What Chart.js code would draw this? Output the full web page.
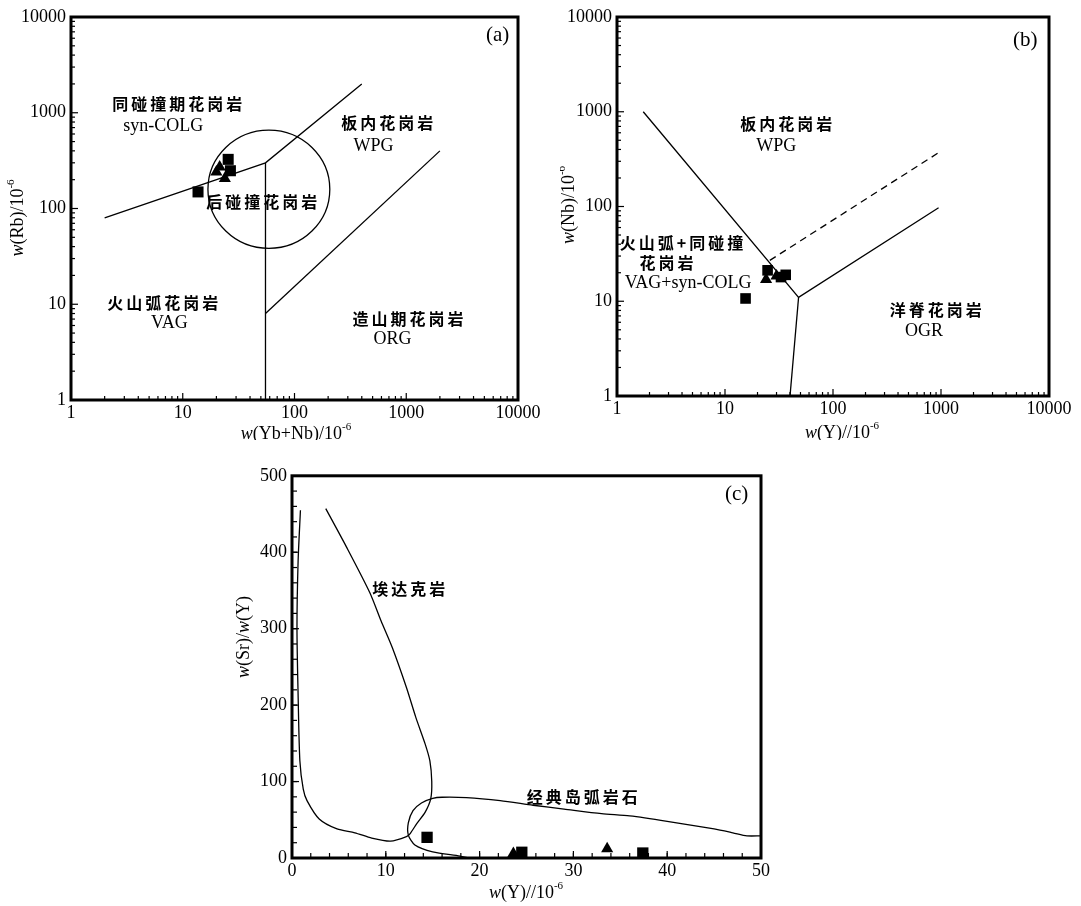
<!DOCTYPE html>
<html>
<head>
<meta charset="utf-8">
<script src="https://cdn.jsdelivr.net/npm/chart.js@4.4.0/dist/chart.umd.min.js"></script>
<style>
  html, body { margin: 0; padding: 0; background: #fff; width: 1081px; height: 906px; overflow: hidden; }
  canvas { position: absolute; }
</style>
</head>
<body>
<canvas id="chartA" width="555" height="440" style="left:0px;top:0px"></canvas>
<canvas id="chartB" width="521" height="440" style="left:560px;top:0px"></canvas>
<canvas id="chartC" width="560" height="446" style="left:230px;top:460px"></canvas>
<script>
// ---------- shared tick labels ----------
const logTicks = [1, 10, 100, 1000, 10000];
const cTicksX = [0, 10, 20, 30, 40, 50];
const cTicksY = [0, 100, 200, 300, 400, 500];

// ---------- (a) Rb vs Yb+Nb ----------
const aSquareX = [13.7, 25.5, 26.7];
const aSquareY = [149, 326, 248];
const aTriangleX = [21.4, 23.8, 20.0];
const aTriangleY = [272, 206, 240];
const aSynVagX = [2, 55, 400];
const aSynVagY = [80, 300, 2000];
const aVagWpgX = [55, 55];
const aVagWpgY = [300, 1];
const aWpgOrgX = [55, 2000];
const aWpgOrgY = [8, 400];
const aPostColgX = [16.8, 207];   // left / right extent of the post-COLG field
const aPostColgY = [38.3, 658];   // bottom / top extent

// ---------- (b) Nb vs Y ----------
const bSquareX = [15.5, 24.8, 33, 36.5];
const bSquareY = [10.7, 21.2, 18, 19];
const bTriangleX = [24, 30];
const bTriangleY = [17, 18.5];
const bWpgX = [1.75, 48, 950];
const bWpgY = [1000, 11, 97];
const bVagOrgX = [48, 40];
const bVagOrgY = [11, 1];
const bDashX = [26, 950];
const bDashY = [27, 370];

// ---------- (c) Sr/Y vs Y ----------
const cSquareX = [14.4, 24.5, 37.4];
const cSquareY = [27, 7.5, 6.5];
const cTriangleX = [23.6, 33.6];
const cTriangleY = [6, 12];
const cAdakiteX = [3.6, 5.8, 8.3, 9.5, 10.7, 12.2, 13.2, 14.2, 14.7, 14.9, 14.8, 14.2, 13.3, 12.6, 12.2, 10.5, 8.5, 6.7, 4.8, 2.9, 1.6, 1.2, 0.84, 0.65, 0.53, 0.65, 0.9];
const cAdakiteY = [457, 407, 347, 310, 275, 223, 184, 149, 127, 100, 78, 60, 45, 32, 28, 22, 26, 33, 38, 51, 75, 90, 127, 214, 301, 388, 455];
const cArcX = [50, 48.5, 47, 45, 40, 36, 33, 29, 25.7, 22.2, 18.6, 16, 15, 13.8, 12.9, 12.4, 12.4, 13.1, 15, 17.9, 18.8];
const cArcY = [29, 29, 33, 38, 48, 55, 58, 64, 69, 75, 79, 79.5, 78, 72, 62, 46, 30, 17, 8, 2.5, 0];

const pts = (xs, ys) => xs.map((x, i) => ({ x, y: ys[i] }));

const SERIF = '"Liberation Serif", "Times New Roman", serif';
const CJK = '"Noto Sans CJK SC", sans-serif';

// inward tick marks and the heavy frame round the plot area
const framePlugin = {
  id: 'frame',
  afterDatasetsDraw(chart, args, opts) {
    const { ctx, chartArea: a, scales: { x, y } } = chart;
    ctx.save();
    ctx.strokeStyle = '#000';
    ctx.lineWidth = 1.2;
    const minorVals = (scale, step) => {
      const out = [];
      if (scale.type === 'logarithmic') {
        for (let d = scale.min; d < scale.max; d *= 10)
          for (let m = 2; m <= 9; m++) out.push(m * d);
      } else {
        for (let v = scale.min; v <= scale.max + 1e-9; v += step) out.push(v);
      }
      return out;
    };
    const tickX = (v, len) => {
      const p = x.getPixelForValue(v);
      ctx.beginPath(); ctx.moveTo(p, a.bottom); ctx.lineTo(p, a.bottom - len); ctx.stroke();
    };
    const tickY = (v, len) => {
      const p = y.getPixelForValue(v);
      ctx.beginPath(); ctx.moveTo(a.left, p); ctx.lineTo(a.left + len, p); ctx.stroke();
    };
    minorVals(x, opts.xStep).forEach(v => tickX(v, opts.minorLen));
    minorVals(y, opts.yStep).forEach(v => tickY(v, opts.minorLen));
    x.ticks.forEach(t => tickX(t.value, opts.majorLen));
    y.ticks.forEach(t => tickY(t.value, opts.majorLen));
    ctx.lineWidth = 3;
    ctx.strokeRect(a.left, a.top, a.width, a.height);
    ctx.restore();
  }
};

// ellipse for the post-collision field, placed through the chart scales
const fieldPlugin = {
  id: 'field',
  afterDatasetsDraw(chart, args, opts) {
    if (!opts.box) return;
    const { ctx, scales: { x, y } } = chart;
    const l = x.getPixelForValue(opts.box.x[0]), r = x.getPixelForValue(opts.box.x[1]);
    const b = y.getPixelForValue(opts.box.y[0]), t = y.getPixelForValue(opts.box.y[1]);
    ctx.save();
    ctx.strokeStyle = '#000';
    ctx.lineWidth = 1.3;
    ctx.beginPath();
    ctx.ellipse((l + r) / 2, (t + b) / 2, (r - l) / 2, (b - t) / 2, 0, 0, Math.PI * 2);
    ctx.stroke();
    ctx.restore();
  }
};

function drawRich(ctx, parts, cx, cy, size, vertical) {
  ctx.save();
  ctx.translate(cx, cy);
  if (vertical) ctx.rotate(-Math.PI / 2);
  ctx.textBaseline = 'middle';
  ctx.textAlign = 'left';
  ctx.fillStyle = '#000';
  let total = 0;
  const fonts = parts.map(p => {
    const f = `${p.i ? 'italic ' : ''}${p.sup ? Math.round(size * 0.62) : size}px ${SERIF}`;
    ctx.font = f;
    const w = ctx.measureText(p.t).width;
    total += w;
    return { f, w };
  });
  let px = -total / 2;
  parts.forEach((p, k) => {
    ctx.font = fonts[k].f;
    ctx.fillText(p.t, px, p.sup ? -size * 0.38 : 0);
    px += fonts[k].w;
  });
  ctx.restore();
}

// region names (placed in data coordinates) and axis titles
const textPlugin = {
  id: 'texts',
  afterDraw(chart, args, opts) {
    const { ctx, scales: { x, y } } = chart;
    ctx.save();
    ctx.fillStyle = '#000';
    ctx.textAlign = 'center';
    ctx.textBaseline = 'middle';
    (opts.labels || []).forEach(l => {
      ctx.font = l.cjk ? `bold 16px ${CJK}` : `${l.size || 18}px ${SERIF}`;
      ctx.letterSpacing = l.cjk ? '3px' : '0px';
      ctx.fillText(l.text, x.getPixelForValue(l.x), y.getPixelForValue(l.y));
    });
    ctx.letterSpacing = '0px';
    ctx.restore();
    (opts.titles || []).forEach(t => drawRich(ctx, t.parts, t.cx, t.cy, t.size || 18, t.vertical));
  }
};

function axisOpts(type, min, max, tickVals, fitSize, isY) {
  return {
    type, min, max,
    grid: { display: false, drawTicks: false },
    border: { display: false },
    afterBuildTicks: s => { s.ticks = tickVals.map(v => ({ value: v })); },
    afterFit: s => { if (isY) s.width = fitSize; else s.height = fitSize; },
    ticks: {
      autoSkip: false,
      maxRotation: 0,
      padding: isY ? 5 : 2,
      color: '#000',
      font: { family: SERIF, size: 18 },
      callback: v => String(v)
    }
  };
}

function lineSet(xs, ys, extra) {
  return Object.assign({
    data: pts(xs, ys), showLine: true, pointRadius: 0,
    borderColor: '#000', borderWidth: 1.3, fill: false
  }, extra || {});
}
function markSet(xs, ys, style, r) {
  return {
    data: pts(xs, ys), showLine: false, pointStyle: style, pointRadius: r,
    backgroundColor: '#000', borderColor: '#000', borderWidth: 0, clip: false
  };
}

function makeChart(id, datasets, scales, padding, plugins) {
  return new Chart(document.getElementById(id), {
    type: 'scatter',
    data: { datasets },
    options: {
      responsive: false, animation: false, events: [],
      layout: { padding },
      scales,
      plugins: Object.assign({ legend: { display: false }, tooltip: { enabled: false } }, plugins)
    },
    plugins: [framePlugin, fieldPlugin, textPlugin]
  });
}

// (a)
makeChart('chartA', [
  lineSet(aSynVagX, aSynVagY),
  lineSet(aVagWpgX, aVagWpgY),
  lineSet(aWpgOrgX, aWpgOrgY),
  markSet(aSquareX, aSquareY, 'rect', 7.8),
  markSet(aTriangleX, aTriangleY, 'triangle', 7)
], {
  x: axisOpts('logarithmic', 1, 10000, logTicks, 40, false),
  y: axisOpts('logarithmic', 1, 10000, logTicks, 71, true)
}, { top: 17, right: 37, left: 0, bottom: 0 }, {
  frame: { minorLen: 4, majorLen: 7 },
  field: { box: { x: aPostColgX, y: aPostColgY } },
  texts: {
    labels: [
      { text: '同碰撞期花岗岩', x: 9.2, y: 1230, cjk: true },
      { text: 'syn-COLG', x: 6.7, y: 724 },
      { text: '板内花岗岩', x: 699, y: 778, cjk: true },
      { text: 'WPG', x: 509, y: 448 },
      { text: '后碰撞花岗岩', x: 52.5, y: 117, cjk: true },
      { text: '火山弧花岗岩', x: 6.84, y: 10.4, cjk: true },
      { text: 'VAG', x: 7.6, y: 6.4 },
      { text: '造山期花岗岩', x: 1072, y: 7.1, cjk: true },
      { text: 'ORG', x: 753, y: 4.3 },
      { text: '(a)', x: 6560, y: 6460, size: 21 }
    ],
    titles: [
      { parts: [{ t: 'w', i: true }, { t: '(Rb)/10' }, { t: '-6', sup: true }], cx: 18, cy: 218, vertical: true },
      { parts: [{ t: 'w', i: true }, { t: '(Yb+Nb)/10' }, { t: '-6', sup: true }], cx: 296, cy: 434 }
    ]
  }
});

// (b)
makeChart('chartB', [
  lineSet(bWpgX, bWpgY),
  lineSet(bVagOrgX, bVagOrgY),
  lineSet(bDashX, bDashY, { borderDash: [7, 5] }),
  markSet(bSquareX, bSquareY, 'rect', 7.5),
  markSet(bTriangleX, bTriangleY, 'triangle', 7)
], {
  x: axisOpts('logarithmic', 1, 10000, logTicks, 44, false),
  y: axisOpts('logarithmic', 1, 10000, logTicks, 57, true)
}, { top: 17, right: 32, left: 0, bottom: 0 }, {
  frame: { minorLen: 4, majorLen: 7 },
  field: {},
  texts: {
    labels: [
      { text: '板内花岗岩', x: 38.1, y: 753, cjk: true },
      { text: 'WPG', x: 29.8, y: 434 },
      { text: '火山弧+同碰撞', x: 4.09, y: 41.4, cjk: true },
      { text: '花岗岩', x: 2.97, y: 25.1, cjk: true },
      { text: 'VAG+syn-COLG', x: 4.55, y: 15.4 },
      { text: '洋脊花岗岩', x: 924, y: 8.07, cjk: true },
      { text: 'OGR', x: 697, y: 4.77 },
      { text: '(b)', x: 6040, y: 5690, size: 21 }
    ],
    titles: [
      { parts: [{ t: 'w', i: true }, { t: '(Nb)/10' }, { t: '-6', sup: true }], cx: 9, cy: 205, vertical: true },
      { parts: [{ t: 'w', i: true }, { t: '(Y)//10' }, { t: '-6', sup: true }], cx: 282, cy: 433 }
    ]
  }
});

// (c)
makeChart('chartC', [
  lineSet(cAdakiteX, cAdakiteY, { tension: 0.25 }),
  lineSet(cArcX, cArcY, { tension: 0.25 }),
  markSet(cSquareX, cSquareY, 'rect', 8),
  markSet(cTriangleX, cTriangleY, 'triangle', 7)
], {
  x: axisOpts('linear', 0, 50, cTicksX, 48, false),
  y: axisOpts('linear', 0, 500, cTicksY, 62, true)
}, { top: 14, right: 29, left: 0, bottom: 0 }, {
  frame: { minorLen: 5, majorLen: 7, xStep: 2, yStep: 20 },
  field: {},
  texts: {
    labels: [
      { text: '埃达克岩', x: 12.6, y: 352, cjk: true },
      { text: '经典岛弧岩石', x: 31.1, y: 80, cjk: true },
      { text: '(c)', x: 47.4, y: 476, size: 21 }
    ],
    titles: [
      { parts: [{ t: 'w', i: true }, { t: '(Sr)/' }, { t: 'w', i: true }, { t: '(Y)' }], cx: 14, cy: 177, vertical: true },
      { parts: [{ t: 'w', i: true }, { t: '(Y)//10' }, { t: '-6', sup: true }], cx: 296, cy: 433 }
    ]
  }
});
</script>
</body>
</html>
